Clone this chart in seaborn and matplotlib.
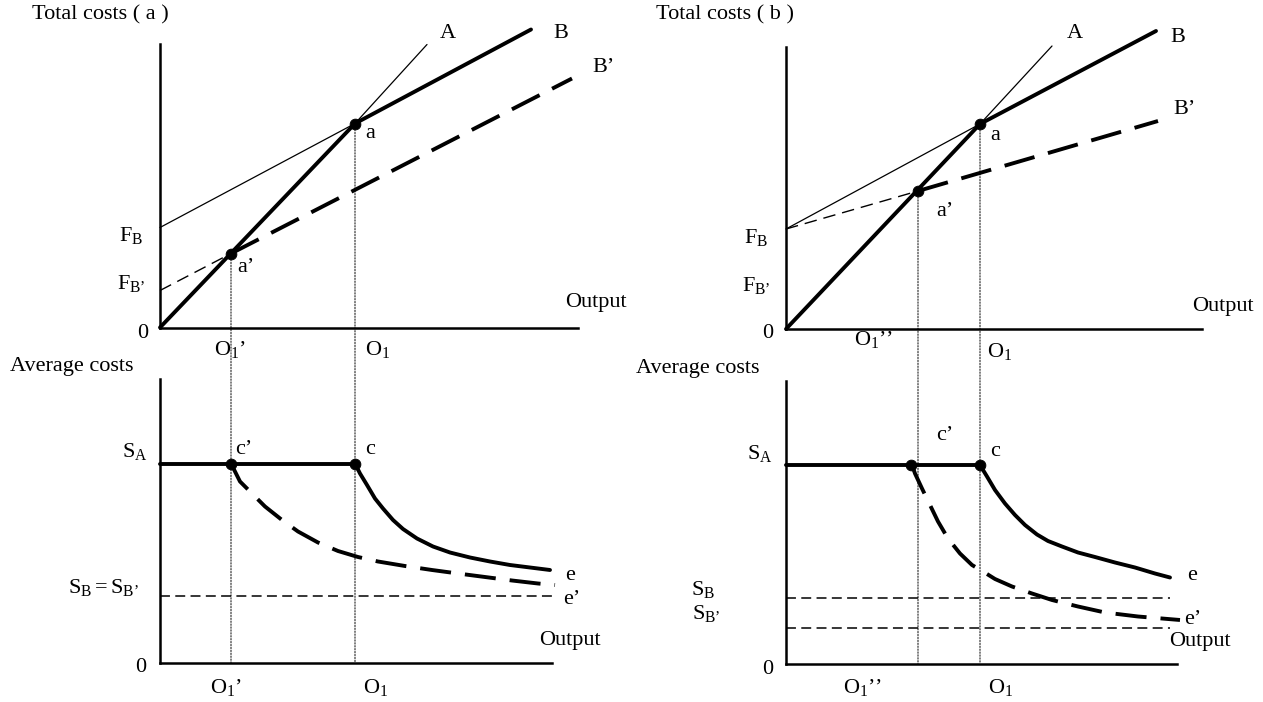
import matplotlib
matplotlib.use("Agg")
import matplotlib.pyplot as plt
import seaborn as sns
from matplotlib.patches import ConnectionPatch

# ---- values (units: output / cost, arbitrary) ----
# (a) total costs
a_A_x = [0, 19.5, 26.7]
a_A_y = [0, 20.4, 28.3]
a_B_x = [0, 19.5, 37.1]
a_B_y = [10.0, 20.4, 29.8]
a_Bp_x = [0, 7.1, 41.2]
a_Bp_y = [3.7, 7.4, 24.9]
a_pts_x = [7.1, 19.5]          # a', a
a_pts_y = [7.4, 20.4]

# (b) total costs
b_A_x = [0, 19.4, 26.6]
b_A_y = [0, 20.5, 28.3]
b_B_x = [0, 19.4, 37.0]
b_B_y = [10.0, 20.5, 29.8]
b_Bp_x = [0, 13.2, 37.2]
b_Bp_y = [10.0, 13.8, 20.8]
b_pts_x = [13.2, 19.4]         # a', a
b_pts_y = [13.8, 20.5]

# (a) average costs
a_SA = 19.9
a_SB = 6.7
a_SB_end = 39.4
a_c_x = [7.1, 19.5]            # c', c
a_acB_x = [19.5, 20.0, 20.7, 21.5, 22.3, 23.3, 24.3, 25.7, 27.3, 29.0,
           31.0, 33.0, 35.0, 37.0, 39.0]
a_acB_y = [19.9, 18.9, 17.75, 16.4, 15.4, 14.25, 13.35, 12.4, 11.6, 11.0,
           10.5, 10.1, 9.75, 9.5, 9.25]
a_acBp_x = [7.1, 8.0, 9.2, 10.5, 12.2, 13.8, 15.8, 17.8, 19.8, 21.8,
            24.5, 27.2, 29.8, 32.5, 35.2, 37.8, 39.5]
a_acBp_y = [19.9, 18.1, 16.9, 15.6, 14.25, 13.1, 12.0, 11.15, 10.55, 10.1,
            9.65, 9.25, 8.9, 8.55, 8.2, 7.9, 7.75]

# (b) average costs
b_SA = 19.85
b_SB = 6.6
b_SBp = 3.6
b_SB_end = 38.4
b_c_x = [12.5, 19.4]           # c', c
b_acB_x = [19.4, 20.1, 20.9, 21.9, 22.9, 23.9, 25.1, 26.2, 27.6, 29.2,
           30.9, 32.9, 34.9, 36.9, 38.4]
b_acB_y = [19.85, 18.7, 17.35, 16.0, 14.85, 13.85, 12.9, 12.25, 11.7, 11.1,
           10.65, 10.1, 9.6, 9.0, 8.6]
b_acBp_x = [12.6, 12.9, 13.6, 14.4, 15.2, 16.2, 17.4, 18.6, 19.7, 20.9,
            22.6, 24.6, 26.6, 29.2, 31.9, 35.2, 39.4]
b_acBp_y = [19.85, 19.0, 17.5, 15.85, 14.2, 12.5, 11.0, 9.85, 9.2, 8.45,
            7.7, 7.0, 6.35, 5.7, 5.1, 4.7, 4.35]

sns.set_theme(style="white")
plt.rcParams["font.family"] = ["Liberation Serif", "DejaVu Serif"]
plt.rcParams["mathtext.fontset"] = "custom"
plt.rcParams["mathtext.rm"] = "Liberation Serif"
plt.rcParams["mathtext.it"] = "Liberation Serif:italic"

W, H = 1263, 702
fig = plt.figure(figsize=(W / 100, H / 100), dpi=100)
fig.patch.set_facecolor("white")

THICK, THIN = 2.8, 0.9
DASH = (0, (8, 3.6))
FS = 16


def panel(left, right, bottom, top):
    ax = fig.add_axes([left / W, 1 - bottom / H, (right - left) / W, (bottom - top) / H])
    ax.set_xlim(0, (right - left) / 10)
    ax.set_ylim(0, (bottom - top) / 10)
    ax.patch.set_alpha(0)
    for s in ["top", "right"]:
        ax.spines[s].set_visible(False)
    for s in ["left", "bottom"]:
        ax.spines[s].set_color("black")
        ax.spines[s].set_linewidth(1.8)
    ax.set_xticks([])
    ax.set_yticks([])
    return ax


def line(ax, x, y, lw, ls="-"):
    sns.lineplot(x=x, y=y, ax=ax, color="black", lw=lw, linestyle=ls,
                 sort=False, estimator=None, clip_on=False)


def dots(ax, x, y):
    sns.scatterplot(x=x, y=y, ax=ax, color="black", s=60, edgecolor="black",
                    zorder=6, clip_on=False)


def lab(ax, x, y, s, ha="center"):
    ax.text(x, y, s, ha=ha, va="center", fontsize=FS, color="black", clip_on=False)


def drop(ax_top, ax_bot, x, y):
    con = ConnectionPatch(xyA=(x, y), coordsA=ax_top.transData,
                          xyB=(x, 0), coordsB=ax_bot.transData,
                          color="black", lw=0.7, linestyle=(0, (1.5, 1.5)))
    fig.add_artist(con)


ax_ta = panel(160, 578, 327.5, 44)
ax_tb = panel(786, 1202, 329, 47)
ax_ba = panel(160, 552, 662.5, 379)
ax_bb = panel(786, 1177, 663.5, 381)

# ---- (a) total costs ----
ax = ax_ta
line(ax, a_A_x[:2], a_A_y[:2], THICK)
line(ax, a_A_x[1:], a_A_y[1:], THIN)
line(ax, a_B_x[:2], a_B_y[:2], THIN)
line(ax, a_B_x[1:], a_B_y[1:], THICK)
line(ax, a_Bp_x[:2], a_Bp_y[:2], 1.0, (0, (9, 5)))
line(ax, a_Bp_x[1:], a_Bp_y[1:], THICK, DASH)
dots(ax, a_pts_x, a_pts_y)
lab(ax, -12.8, 31.25, "Total costs ( a )", ha="left")
lab(ax, 28.8, 29.45, "A")
lab(ax, 40.1, 29.45, "B")
lab(ax, 44.4, 26.05, "B’")
lab(ax, 21.0, 19.45, "a")
lab(ax, 8.6, 6.05, "a’")
lab(ax, -2.9, 9.25, r"$\mathregular{F_B}$")
lab(ax, -2.9, 4.45, r"$\mathregular{F_{B’}}$")
lab(ax, -1.7, -0.55, "0")
lab(ax, 43.6, 2.45, "Output")
lab(ax, 7.0, -2.25, r"$\mathregular{O_1’}$")
lab(ax, 21.8, -2.25, r"$\mathregular{O_1}$")

# ---- (b) total costs ----
ax = ax_tb
line(ax, b_A_x[:2], b_A_y[:2], THICK)
line(ax, b_A_x[1:], b_A_y[1:], THIN)
line(ax, b_B_x[:2], b_B_y[:2], THIN)
line(ax, b_B_x[1:], b_B_y[1:], THICK)
line(ax, b_Bp_x[:2], b_Bp_y[:2], 1.0, (0, (9, 5)))
line(ax, b_Bp_x[1:], b_Bp_y[1:], THICK, DASH)
dots(ax, b_pts_x, b_pts_y)
lab(ax, -13.0, 31.4, "Total costs ( b )", ha="left")
lab(ax, 28.9, 29.6, "A")
lab(ax, 39.2, 29.2, "B")
lab(ax, 39.8, 22.0, "B’")
lab(ax, 20.9, 19.4, "a")
lab(ax, 15.9, 11.7, "a’")
lab(ax, -3.0, 9.2, r"$\mathregular{F_B}$")
lab(ax, -3.0, 4.4, r"$\mathregular{F_{B’}}$")
lab(ax, -1.8, -0.4, "0")
lab(ax, 43.7, 2.2, "Output")
lab(ax, 8.8, -1.1, r"$\mathregular{O_1’’}$")
lab(ax, 21.4, -2.3, r"$\mathregular{O_1}$")

# ---- (a) average costs ----
ax = ax_ba
line(ax, [0, a_SB_end], [a_SB, a_SB], 1.1, (0, (6.5, 3.5)))
line(ax, a_acBp_x, a_acBp_y, THICK, DASH)
line(ax, a_acB_x, a_acB_y, THICK)
line(ax, [0, a_c_x[1]], [a_SA, a_SA], THICK)
dots(ax, a_c_x, [a_SA, a_SA])
lab(ax, -15.0, 29.55, "Average costs", ha="left")
lab(ax, -2.5, 21.05, r"$\mathregular{S_A}$")
lab(ax, -5.7, 7.45, r"$\mathregular{S_B = S_{B’}}$")
lab(ax, 8.4, 21.25, "c’")
lab(ax, 21.0, 21.25, "c")
lab(ax, 41.0, 8.65, "e")
lab(ax, 41.2, 6.25, "e’")
lab(ax, 41.0, 2.25, "Output")
lab(ax, -1.9, -0.55, "0")
lab(ax, 6.6, -2.55, r"$\mathregular{O_1’}$")
lab(ax, 21.6, -2.55, r"$\mathregular{O_1}$")

# ---- (b) average costs ----
ax = ax_bb
line(ax, [0, b_SB_end], [b_SB, b_SB], 1.1, (0, (6.5, 3.5)))
line(ax, [0, b_SB_end], [b_SBp, b_SBp], 1.1, (0, (6.5, 3.5)))
line(ax, b_acBp_x, b_acBp_y, THICK, DASH)
line(ax, b_acB_x, b_acB_y, THICK)
line(ax, [0, b_c_x[1]], [b_SA, b_SA], THICK)
dots(ax, b_c_x, [b_SA, b_SA])
lab(ax, -15.0, 29.55, "Average costs", ha="left")
lab(ax, -2.6, 20.95, r"$\mathregular{S_A}$")
lab(ax, -8.3, 7.35, r"$\mathregular{S_B}$")
lab(ax, -8.0, 5.0, r"$\mathregular{S_{B’}}$")
lab(ax, 15.9, 22.85, "c’")
lab(ax, 20.9, 21.15, "c")
lab(ax, 40.6, 8.75, "e")
lab(ax, 40.7, 4.35, "e’")
lab(ax, 41.4, 2.2, "Output")
lab(ax, -1.8, -0.65, "0")
lab(ax, 7.7, -2.45, r"$\mathregular{O_1’’}$")
lab(ax, 21.5, -2.45, r"$\mathregular{O_1}$")

# dotted drop lines from the total-cost points to the bottom axis
for x, y in zip(a_pts_x, a_pts_y):
    drop(ax_ta, ax_ba, x, y)
for x, y in zip(b_pts_x, b_pts_y):
    drop(ax_tb, ax_bb, x, y)

for ax in [ax_ta, ax_tb, ax_ba, ax_bb]:
    ax.set_xlabel("")
    ax.set_ylabel("")

fig.savefig("out.png", dpi=100)
